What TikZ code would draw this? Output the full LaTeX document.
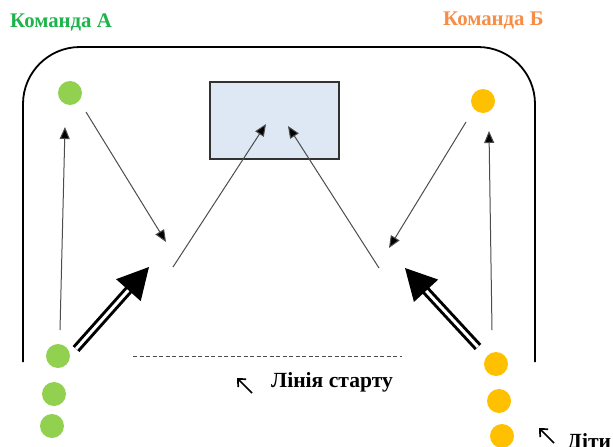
\documentclass[tikz,border=0pt]{standalone}
\usepackage{fontspec}
\setmainfont{Liberation Serif}
\usetikzlibrary{arrows.meta,calc}

\definecolor{teamA}{RGB}{30,180,75}
\definecolor{teamB}{RGB}{247,140,70}
\definecolor{dotA}{RGB}{146,208,80}
\definecolor{dotB}{RGB}{255,192,0}
\definecolor{goalfill}{RGB}{221,232,244}
\definecolor{goalline}{RGB}{50,50,50}

\tikzset{
  gdot/.style={circle, fill=dotA, inner sep=0pt, minimum size=24pt},
  odot/.style={circle, fill=dotB, inner sep=0pt, minimum size=24pt},
  goalbox/.style={draw=goalline, line width=1.6pt, fill=goalfill, inner sep=0pt,
    minimum width=129pt, minimum height=77pt},
  thinarrow/.style={draw=black!70, line width=1pt, -{Triangle[length=12pt,width=10pt,fill=black]}},
  teamlabel/.style={font=\bfseries\fontsize{20.8}{24}\selectfont, inner sep=0pt},
  notelabel/.style={font=\bfseries\fontsize{21.6}{25}\selectfont, inner sep=0pt},
  pointer/.style={draw=black, line width=1.7pt, -{Straight Barb[length=6pt,width=11pt]}},
  runline/.style={draw=black, line width=3pt, double=white, double distance=3pt},
  runhead/.style={fill=black},
}

\begin{document}
\begin{tikzpicture}[x=1pt, y=-1pt]
  \useasboundingbox (0,0) rectangle (613,447);

  % team names
  \node[teamlabel, text=teamA, anchor=west] (nameA) at (10,22) {Команда А};
  \node[teamlabel, text=teamB, anchor=west] (nameB) at (443,20) {Команда Б};

  % playing field
  \draw[line width=1.8pt, rounded corners=57pt] (23,362) -- (23,47) -- (535,47) -- (535,362);

  % goal
  \node[goalbox] (goal) at (274.5,120.5) {};

  % players of team A
  \node[gdot] (a1) at (70,93) {};
  \node[gdot] (a2) at (58,356) {};
  \node[gdot] (a3) at (54,394) {};
  \node[gdot] (a4) at (52,426) {};

  % players of team B
  \node[odot] (b1) at (483,101) {};
  \node[odot] (b2) at (496,364) {};
  \node[odot] (b3) at (499,401) {};
  \node[odot] (b4) at (502,436) {};

  % pass routes, team A
  \coordinate (aUpS) at (60,330);   \coordinate (aUpE) at (65,127);
  \coordinate (aPassS) at (86,112); \coordinate (aPassE) at (166,242);
  \coordinate (aShotS) at (173,267); \coordinate (aShotE) at (266,124);
  \draw[thinarrow] (aUpS) -- (aUpE);
  \draw[thinarrow] (aPassS) -- (aPassE);
  \draw[thinarrow] (aShotS) -- (aShotE);

  % pass routes, team B
  \coordinate (bUpS) at (492,330);  \coordinate (bUpE) at (489,131);
  \coordinate (bPassS) at (466,122); \coordinate (bPassE) at (389,248);
  \coordinate (bShotS) at (379,268); \coordinate (bShotE) at (288,126);
  \draw[thinarrow] (bUpS) -- (bUpE);
  \draw[thinarrow] (bPassS) -- (bPassE);
  \draw[thinarrow] (bShotS) -- (bShotE);

  % running direction, team A
  \coordinate (aRunS) at (76,349); \coordinate (aRunE) at (149,267);
  \coordinate (aRunB) at ($(aRunE)!31pt!(aRunS)$);
  \draw[runline] (aRunS) -- ($(aRunE)!29pt!(aRunS)$);
  \fill[runhead] (aRunE) -- ($(aRunB)!16.5pt!90:(aRunE)$) -- ($(aRunB)!16.5pt!-90:(aRunE)$) -- cycle;

  % running direction, team B
  \coordinate (bRunS) at (478,347); \coordinate (bRunE) at (405,268);
  \coordinate (bRunB) at ($(bRunE)!31pt!(bRunS)$);
  \draw[runline] (bRunS) -- ($(bRunE)!29pt!(bRunS)$);
  \fill[runhead] (bRunE) -- ($(bRunB)!16.5pt!90:(bRunE)$) -- ($(bRunB)!16.5pt!-90:(bRunE)$) -- cycle;

  % start line
  \coordinate (lineS) at (133,356); \coordinate (lineE) at (402,356);
  \draw[black!70, line width=1pt, dash pattern=on 4pt off 2.5pt] (lineS) -- (lineE);

  % captions with pointers
  \node[notelabel, anchor=west] (startlbl) at (271,382) {Лінія старту};
  \coordinate (p1S) at (252,393); \coordinate (p1E) at (237,378);
  \draw[pointer] (p1S) -- (p1E);

  \node[notelabel, anchor=base west] (kidslbl) at (567,448) {Діти};
  \coordinate (p2S) at (554,443); \coordinate (p2E) at (539,428);
  \draw[pointer] (p2S) -- (p2E);
\end{tikzpicture}
\end{document}
